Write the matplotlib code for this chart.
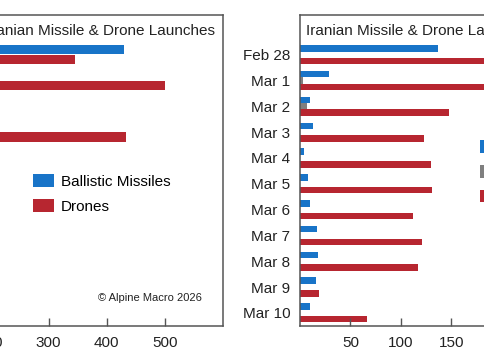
import matplotlib
matplotlib.use("Agg")
import matplotlib.pyplot as plt
import numpy as np

plt.rcParams['font.family'] = ['Liberation Sans', 'DejaVu Sans']

# left panel (y labels are cut off in the reference)
left_rows = ["Row 1", "Row 2", "Row 3", "Row 4"]
left_ballistic = [430, 0, 0, 0]
left_drones = [346, 500, 0, 434]

# right panel: daily launches
dates = ["Feb 28", "Mar 1", "Mar 2", "Mar 3", "Mar 4", "Mar 5",
         "Mar 6", "Mar 7", "Mar 8", "Mar 9", "Mar 10"]
ballistic = [137, 29, 10, 13, 4, 8, 10, 17, 18, 16, 10]
cruise = [0, 3, 7, 0, 0, 0, 0, 0, 0, 0, 0]
drones = [225, 205, 148, 123, 130, 131, 112, 121, 117, 19, 66]

BLUE = "#1874c8"
RED = "#b72630"
GREY = "#7f7f7f"
EDGE = "#555555"

W, H = 485, 360
fig = plt.figure(figsize=(W / 100, H / 100), dpi=100)

def px(x0, y0, w, h):
    # pixel box (top-left origin) -> figure fraction
    return [x0 / W, 1 - (y0 + h) / H, w / W, h / H]

def style(ax):
    for s in ax.spines.values():
        s.set_color(EDGE)
        s.set_linewidth(1.1)
    ax.tick_params(axis='x', direction='in', length=6, width=1, color=EDGE,
                   labelsize=11, pad=7, labelcolor='#222222')
    ax.tick_params(axis='y', length=0, labelsize=11, pad=7, labelcolor='#222222')
    ax.set_ylim(10.51, -1.54)

# ---- left panel ----
ax1 = fig.add_axes(px(-126, 15, 349, 311))
style(ax1)
y = np.arange(len(left_rows))
ax1.barh(y - 0.19, left_ballistic, height=0.36, color=BLUE, label="Ballistic Missiles")
ax1.barh(y + 0.19, left_drones, height=0.36, color=RED, label="Drones")
ax1.set_xlim(0, 600)
ax1.set_xticks([0, 100, 200, 300, 400, 500])
ax1.set_yticks(y)
ax1.set_yticklabels(left_rows)
ax1.text(0.977, 0.95, "Iranian Missile & Drone Launches", transform=ax1.transAxes,
         ha='right', va='center', fontsize=11, color='#222222')
ax1.text(0.94, 0.09, "\u00a9 Alpine Macro 2026", transform=ax1.transAxes,
         ha='right', va='center', fontsize=8, color='#222222')
fig.legend(*ax1.get_legend_handles_labels(), loc='upper left',
           bbox_to_anchor=(33 / W, 1 - 174 / H), frameon=False, fontsize=11,
           borderpad=0, borderaxespad=0, handlelength=1.37, handleheight=0.92,
           handletextpad=0.46, labelspacing=0.68)

# ---- right panel ----
ax2 = fig.add_axes(px(300, 15, 252, 311))
style(ax2)
y = np.arange(len(dates))
ax2.barh(y - 0.245, ballistic, height=0.25, color=BLUE, label="Ballistic Missiles")
ax2.barh(y, cruise, height=0.25, color=GREY, label="Cruise Missiles")
ax2.barh(y + 0.245, drones, height=0.25, color=RED, label="Drones")
ax2.set_xlim(0, 250)
ax2.set_xticks([50, 100, 150, 200])
ax2.set_yticks(y)
ax2.set_yticklabels(dates)
ax2.text(0.024, 0.95, "Iranian Missile & Drone Launches", transform=ax2.transAxes,
         ha='left', va='center', fontsize=11, color='#222222')
fig.legend(*ax2.get_legend_handles_labels(), loc='upper left',
           bbox_to_anchor=(480 / W, 1 - 140 / H), frameon=False, fontsize=11,
           borderpad=0, borderaxespad=0, handlelength=1.37, handleheight=0.92,
           handletextpad=0.46, labelspacing=0.66)

fig.savefig("out.png", dpi=100)
